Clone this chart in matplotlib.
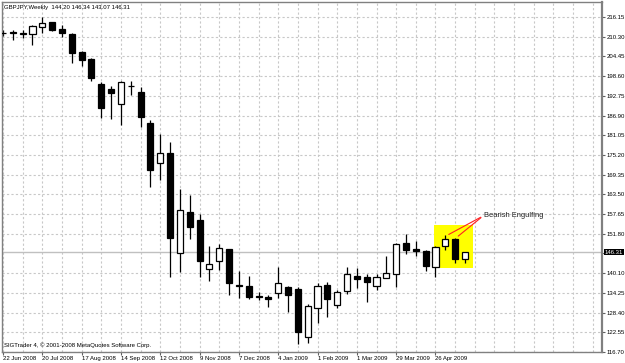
import matplotlib.pyplot as plt
from matplotlib.patches import Rectangle

plt.rcParams['font.family'] = ['Liberation Sans Narrow', 'DejaVu Sans Condensed',
                               'Liberation Sans', 'DejaVu Sans']

# weekly GBPJPY candles, 22 Jun 2008 .. 17 May 2009
opens = [211.50, 211.70, 211.10, 211.02, 213.09, 214.58, 212.50, 211.10, 205.85, 203.68,
         196.26, 194.69, 190.32, 195.60, 193.98, 184.59, 172.72, 175.87, 146.18, 158.26,
         155.89, 141.25, 143.71, 147.19, 136.68, 136.29, 133.41, 132.94, 134.13, 135.91,
         135.55, 121.24, 129.67, 136.59, 130.65, 134.90, 139.35, 138.88, 136.38, 138.76,
         139.86, 148.97, 147.19, 146.77, 142.02, 148.26, 150.16, 144.20]
highs = [212.29, 212.29, 212.29, 213.78, 216.06, 214.67, 213.78, 211.31, 206.15, 203.83,
         196.94, 195.67, 197.15, 197.24, 195.28, 185.57, 181.42, 179.13, 165.00, 163.31,
         157.58, 148.17, 148.67, 147.40, 140.75, 139.35, 134.60, 133.62, 141.84, 136.29,
         135.91, 130.95, 137.09, 137.57, 135.11, 142.02, 141.55, 139.86, 139.86, 145.20,
         148.97, 151.73, 149.74, 146.98, 148.17, 151.43, 150.45, 146.34]
lows = [210.51, 209.32, 210.01, 207.84, 211.49, 212.00, 210.30, 202.41, 201.69, 197.24,
        186.08, 185.78, 184.09, 193.00, 183.58, 165.77, 167.76, 139.05, 140.54, 150.25,
        139.05, 137.87, 141.04, 133.62, 132.82, 132.34, 132.14, 130.15, 132.82, 128.66,
        119.07, 119.28, 125.40, 127.18, 129.67, 133.92, 135.61, 131.63, 135.11, 138.58,
        135.91, 145.79, 145.20, 140.75, 139.05, 146.98, 143.21, 143.07]
closes = [211.30, 211.50, 211.30, 213.57, 214.46, 212.29, 211.49, 205.55, 203.39, 197.95,
          189.05, 193.50, 196.94, 195.75, 186.38, 170.73, 175.69, 150.63, 158.86, 153.90,
          143.71, 142.74, 147.49, 137.09, 136.29, 133.12, 132.94, 132.34, 137.09, 133.62,
          122.73, 130.36, 136.38, 132.43, 134.42, 139.86, 138.28, 137.39, 138.88, 140.24,
          148.67, 146.98, 146.68, 142.32, 147.96, 150.16, 144.31, 146.31]

date_labels = ["22 Jun 2008", "20 Jul 2008", "17 Aug 2008", "14 Sep 2008", "12 Oct 2008",
               "9 Nov 2008", "7 Dec 2008", "4 Jan 2009", "1 Feb 2009", "1 Mar 2009",
               "29 Mar 2009", "26 Apr 2009"]
price_ticks = [116.70, 122.55, 128.40, 134.25, 140.10, 145.95, 151.80, 157.65, 163.50,
               169.35, 175.20, 181.05, 186.90, 192.75, 198.60, 204.45, 210.30, 216.15]
last_price = 146.31

fs = 4.3

fig = plt.figure(figsize=(6.25, 3.63), dpi=100)
ax = fig.add_axes([2 / 625, 11 / 363, 600 / 625, 350 / 363])
ax.set_xlim(-0.1, 60.94)
ax.set_ylim(116.70, 220.60)

grid_kw = dict(color='#c8c8c8', lw=0.8, linestyle=(0, (2, 2)), zorder=0)
for gx in range(0, 62, 2):
    ax.axvline(gx, **grid_kw)
for gy in price_ticks:
    if gy != 145.95:
        ax.axhline(gy, **grid_kw)
ax.axhline(last_price, color='#c0c0c0', lw=1, zorder=0.5)

# highlight box round the pattern
ax.add_patch(Rectangle((43.85, 141.64), 4.0, 12.76, facecolor='#ffff00',
                       edgecolor='none', zorder=1))

w = 0.62
for i in range(len(opens)):
    o, h, l, c = opens[i], highs[i], lows[i], closes[i]
    ax.plot([i, i], [l, h], color='black', lw=0.9, zorder=2, solid_capstyle='butt')
    fc = 'white' if c >= o else 'black'
    ax.add_patch(Rectangle((i - w / 2, min(o, c)), w, abs(c - o), facecolor=fc,
                           edgecolor='black', lw=0.9, zorder=3))

ax.annotate('', xy=(45.1, 151.2), xytext=(48.85, 157.1),
            arrowprops=dict(arrowstyle='-', color='#ff2020', lw=0.8), zorder=4)
ax.annotate('', xy=(46.1, 150.6), xytext=(48.85, 157.1),
            arrowprops=dict(arrowstyle='-', color='#ff2020', lw=0.8), zorder=4)
ax.text(48.9, 157.3, 'Bearish Engulfing', family=['Liberation Sans', 'DejaVu Sans'],
        fontsize=5.4, color='#202020', va='center', ha='left', zorder=5)

ax.text(0.003, 0.99, 'GBPJPY,Weekly  144.20 146.34 143.07 146.31', transform=ax.transAxes,
        fontsize=fs, va='top', ha='left')
ax.text(0.003, 0.012, 'SIGTrader 4, \u00a9 2001-2008 MetaQuotes Software Corp.',
        transform=ax.transAxes, fontsize=fs, va='bottom', ha='left')

ax.yaxis.tick_right()
ax.set_yticks(price_ticks)
ax.set_yticklabels(['%.2f' % p if p != 145.95 else '' for p in price_ticks])
ax.tick_params(axis='y', direction='out', length=2.5, width=0.8, pad=0.8, labelsize=fs,
               color='#606060')
ax.text(1.0045, last_price, '%.2f' % last_price, transform=ax.get_yaxis_transform(),
        fontsize=fs, color='white', va='center', ha='left',
        bbox=dict(boxstyle='square,pad=0.12', facecolor='black', edgecolor='none'))

ax.set_xticks(range(0, 48, 4))
ax.set_xticklabels(date_labels, ha='left')
ax.tick_params(axis='x', direction='out', length=2.5, width=0.8, pad=0.5, labelsize=fs,
               color='#606060')

for side in ['left', 'right', 'top', 'bottom']:
    ax.spines[side].set_color('#808080')
    ax.spines[side].set_linewidth(1)
ax.spines['right'].set_linewidth(1.6)

fig.savefig('out.png', dpi=100)
